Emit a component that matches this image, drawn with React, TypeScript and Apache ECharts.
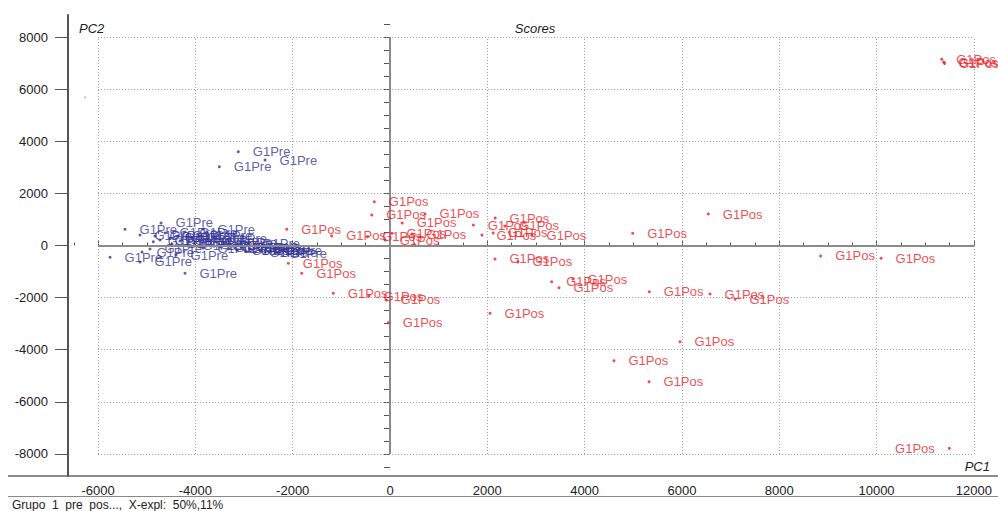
import React, { useEffect, useRef } from "react";
import * as echarts from "echarts";

// Group names shown next to every score
const preGroup = "G1Pre";
const posGroup = "G1Pos";

// PCA scores (PC1, PC2) — pre-intervention samples
const preScores: [number, number][] = [
  [-3118, 3601], [-3509, 3025], [-2569, 3282], [-5447, 622], [-5755, -453],
  [-4214, -1068], [-5139, 403], [-4865, 146], [-4707, 864], [-3844, 633],
  [-5139, -633], [-5098, -250], [-4830, 365], [-4727, 211], [-4624, 480],
  [-4521, 288], [-4480, 58], [-4357, 365], [-4316, 173], [-4213, 518],
  [-4152, -19], [-4070, 288], [-4008, 96], [-3905, 365], [-3844, -96],
  [-3762, 173], [-3659, 19], [-3597, 250], [-3494, -58], [-3392, 96],
  [-3330, -134], [-3227, -19], [-3145, -173], [-3042, -58], [-2960, -211],
  [-2878, -134], [-2775, -250], [-2672, -173], [-2569, -250], [-2467, -211],
  [-2364, -288], [-2713, -58], [-2919, 58], [-4933, -134], [-4398, -365],
];

// PCA scores (PC1, PC2) — post-intervention samples
const posScores: [number, number][] = [
  [11340, 7150], [11380, 7040], [11400, 6990],
  [-323, 1681], [-376, 1171], [250, 865], [720, 1210], [1713, 785],
  [2160, 1055], [2360, 750], [1890, 400], [2120, 480], [2920, 400],
  [-2123, 622], [-1198, 365], [-460, 340], [-100, 210], [40, 470],
  [450, 440], [6543, 1209], [4988, 468], [2158, -518], [2630, -630],
  [3323, -1390], [3474, -1620], [3760, -1290], [5330, -1773], [6578, -1862],
  [7091, -2066], [5961, -3693], [4604, -4422], [5324, -5228], [8853, -403],
  [10093, -492], [-2090, -683], [-1815, -1068], [-1165, -1835], [-35, -2963],
  [2056, -2603], [-430, -1940], [-80, -2090],
];

// Post sample whose label sits on the left of its point
const posScoresLeft: [number, number][] = [[11497, -7786]];

// Unlabelled sample
const strayScores: [number, number][] = [[-6269, 5689]];

// Axis ticks
const xTickValues = [-6000, -4000, -2000, 0, 2000, 4000, 6000, 8000, 10000, 12000];
const yTickValues = [-8000, -6000, -4000, -2000, 0, 2000, 4000, 6000, 8000];

const X_MIN = -6619;
const X_MAX = 12497;
const Y_MIN = -8848;
const Y_MAX = 8848;
const GRID_X = [-6000, 12000];
const GRID_Y = [-8000, 8000];

const FONT = "'Liberation Sans', Arial, sans-serif";
const BLUE = "#343497";
const RED = "#ee1c28";

function minorTicks(from: number, to: number, step: number): number[] {
  const out: number[] = [];
  for (let v = from; v <= to; v += step) out.push(v);
  return out;
}

export default function App() {
  const ref = useRef<HTMLDivElement>(null);

  useEffect(() => {
    if (!ref.current) return;
    const chart = echarts.init(ref.current, undefined, { renderer: "svg" });

    const gridLines: any[] = [];
    xTickValues.forEach((v) =>
      gridLines.push([{ coord: [v, GRID_Y[0]] }, { coord: [v, GRID_Y[1]] }])
    );
    yTickValues.forEach((v) =>
      gridLines.push([{ coord: [GRID_X[0], v] }, { coord: [GRID_X[1], v] }])
    );

    const pointLabel = (position: "right" | "left") => ({
      show: true,
      formatter: "{a}",
      position,
      distance: 13,
      fontSize: 13,
      fontFamily: FONT,
    });

    chart.setOption({
      animation: false,
      backgroundColor: "#ffffff",
      grid: { left: 68, right: 0, top: 15, bottom: 35, containLabel: false },
      xAxis: [
        {
          type: "value",
          min: X_MIN,
          max: X_MAX,
          position: "bottom",
          axisLine: { show: false },
          splitLine: { show: false },
          axisTick: {
            show: true,
            inside: true,
            length: 5,
            customValues: xTickValues,
            lineStyle: { color: "#555", width: 1 },
          },
          axisLabel: {
            customValues: xTickValues,
            margin: 8,
            color: "#222",
            fontSize: 13,
            fontFamily: FONT,
            formatter: (v: number) => String(v),
          },
        },
        {
          type: "value",
          min: X_MIN,
          max: X_MAX,
          position: "bottom",
          axisLine: { show: false },
          splitLine: { show: false },
          axisTick: {
            show: true,
            inside: true,
            length: 3,
            customValues: minorTicks(-6500, 12000, 500),
            lineStyle: { color: "#555", width: 1 },
          },
          axisLabel: { show: false },
        },
      ],
      yAxis: [
        {
          type: "value",
          min: Y_MIN,
          max: Y_MAX,
          position: "left",
          axisLine: { show: true, onZero: false, lineStyle: { color: "#555", width: 2 } },
          splitLine: { show: false },
          axisTick: {
            show: true,
            length: 13,
            customValues: yTickValues,
            lineStyle: { color: "#555", width: 1 },
          },
          axisLabel: {
            customValues: yTickValues,
            margin: 20,
            color: "#222",
            fontSize: 13,
            fontFamily: FONT,
            formatter: (v: number) => String(v),
          },
        },
        {
          type: "value",
          min: Y_MIN,
          max: Y_MAX,
          position: "left",
          axisLine: { show: false },
          splitLine: { show: false },
          axisTick: {
            show: true,
            length: 6,
            customValues: minorTicks(-8500, 8500, 500),
            lineStyle: { color: "#555", width: 1 },
          },
          axisLabel: { show: false },
        },
      ],
      series: [
        {
          type: "scatter",
          name: "grid",
          data: [],
          z: 1,
          silent: true,
          markLine: {
            silent: true,
            symbol: ["none", "none"],
            label: { show: false },
            lineStyle: { type: [1, 2], color: "#9a9a9a", width: 1 },
            data: gridLines,
          },
        },
        {
          type: "scatter",
          name: "zero",
          data: [],
          z: 2,
          silent: true,
          markLine: {
            silent: true,
            symbol: ["none", "none"],
            label: { show: false },
            lineStyle: { type: "solid", color: "#8a8a8a", width: 2 },
            data: [
              [{ coord: [0, GRID_Y[0]] }, { coord: [0, GRID_Y[1]] }],
              [{ coord: [GRID_X[0], 0] }, { coord: [GRID_X[1], 0] }],
            ],
          },
        },
        {
          type: "scatter",
          name: "stray",
          data: strayScores,
          symbolSize: 2,
          itemStyle: { color: "#b0b0b0" },
          z: 3,
        },
        {
          type: "scatter",
          name: preGroup,
          data: preScores,
          symbolSize: 3,
          itemStyle: { color: BLUE },
          label: { ...pointLabel("right"), color: BLUE },
          z: 4,
        },
        {
          type: "scatter",
          name: posGroup,
          data: posScores,
          symbolSize: 3,
          itemStyle: { color: RED },
          label: { ...pointLabel("right"), color: RED },
          z: 5,
        },
        {
          type: "scatter",
          name: posGroup,
          data: posScoresLeft,
          symbolSize: 3,
          itemStyle: { color: RED },
          label: { ...pointLabel("left"), color: RED },
          z: 5,
        },
      ],
      graphic: [
        {
          type: "line",
          shape: { x1: 8, y1: 476, x2: 998, y2: 476 },
          style: { stroke: "#666", lineWidth: 1.5 },
          silent: true,
        },
        {
          type: "line",
          shape: { x1: 8, y1: 496.5, x2: 998, y2: 496.5 },
          style: { stroke: "#888", lineWidth: 1 },
          silent: true,
        },
        {
          type: "text",
          x: 79,
          y: 28,
          style: {
            text: "PC2",
            font: `italic 13px ${FONT}`,
            fill: "#222",
            verticalAlign: "middle",
          },
        },
        {
          type: "text",
          x: 535,
          y: 28,
          style: {
            text: "Scores",
            font: `italic 13px ${FONT}`,
            fill: "#222",
            align: "center",
            verticalAlign: "middle",
          },
        },
        {
          type: "text",
          x: 990,
          y: 466,
          style: {
            text: "PC1",
            font: `italic 13px ${FONT}`,
            fill: "#222",
            align: "right",
            verticalAlign: "middle",
          },
        },
        {
          type: "text",
          x: 12,
          y: 505,
          style: {
            text: "Grupo  1  pre  pos...,  X-expl:  50%,11%",
            font: `12px ${FONT}`,
            fill: "#222",
            verticalAlign: "middle",
          },
        },
      ],
    });

    return () => chart.dispose();
  }, []);

  return (
    <div
      ref={ref}
      style={{ position: "fixed", left: 0, top: 0, width: 998, height: 511 }}
    />
  );
}
